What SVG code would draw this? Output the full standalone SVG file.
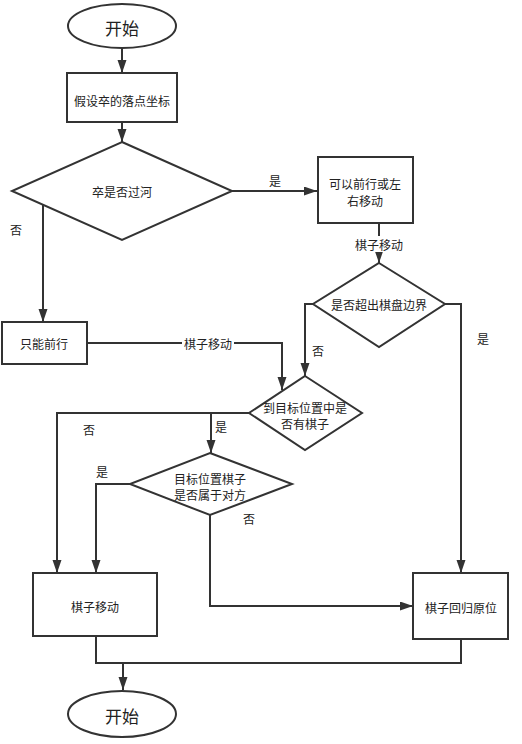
<svg xmlns="http://www.w3.org/2000/svg" width="522" height="744" viewBox="0 0 522 744">
<defs>
<marker id="ah" markerUnits="userSpaceOnUse" markerWidth="14" markerHeight="10" refX="13" refY="4.5" orient="auto">
<path d="M0,0 L13,4.5 L0,9 z" fill="#333"/>
</marker>
<style>
.s{fill:#fff;stroke:#333;stroke-width:2}
.c{fill:none;stroke:#333;stroke-width:2}
.a{marker-end:url(#ah)}
text{font-family:"Noto Sans CJK SC","Noto Sans",sans-serif;font-size:12px;fill:#222;text-anchor:middle;dominant-baseline:central}
.big{font-size:17px}
.lb{fill:#fff;stroke:none}
</style>
</defs>
<rect width="522" height="744" fill="#fff"/>
<g id="connectors">
<path class="c a" d="M122,48 L122,73"/>
<path class="c a" d="M122,122 L122,142"/>
<path class="c a" d="M232,191 L317,191"/>
<path class="c a" d="M379,223 L379,263"/>
<path class="c a" d="M43,205 L43,322"/>
<path class="c a" d="M87,343 L282,343 L282,390"/>
<path class="c a" d="M313,304 L305,304 L305,376"/>
<path class="c a" d="M445,304 L461,304 L461,573"/>
<path class="c a" d="M249,413 L57,413 L57,573"/>
<path class="c a" d="M211,413 L211,453"/>
<path class="c a" d="M130,484 L96,484 L96,573"/>
<path class="c a" d="M210,515 L210,606 L413,606"/>
<path class="c" d="M96,636 L96,663 L461,663 L461,639"/>
<path class="c a" d="M123,663 L123,690"/>
<rect class="lb" x="353" y="236" width="52" height="16"/>
<text x="379" y="244">棋子移动</text>
<rect class="lb" x="182" y="335" width="52" height="16"/>
<text x="208" y="343">棋子移动</text>
<text x="275" y="180">是</text>
<text x="16" y="229">否</text>
<text x="483" y="338">是</text>
<text x="318" y="350">否</text>
<text x="221" y="426">是</text>
<text x="89" y="429">否</text>
<text x="102" y="471">是</text>
<text x="249" y="518">否</text>
</g>
<g id="start">
<ellipse class="s" cx="122" cy="26" rx="54" ry="22"/>
<text class="big" x="122" y="27">开始</text>
</g>
<g id="assume">
<rect class="s" x="67" y="73" width="110" height="49"/>
<text x="122" y="100">假设卒的落点坐标</text>
</g>
<g id="river">
<polygon class="s" points="122,142 232,191 122,240 12,191"/>
<text x="122" y="191">卒是否过河</text>
</g>
<g id="forwardside">
<rect class="s" x="318" y="157" width="95" height="66"/>
<text x="365" y="183">可以前行或左</text>
<text x="365" y="200">右移动</text>
</g>
<g id="boundary">
<polygon class="s" points="379,263 445,304 379,347 313,304"/>
<text x="379" y="304">是否超出棋盘边界</text>
</g>
<g id="forward">
<rect class="s" x="2" y="322" width="85" height="42"/>
<text x="44" y="343">只能前行</text>
</g>
<g id="occupied">
<polygon class="s" points="305,376 362,413 305,450 249,413"/>
<text x="305" y="407">到目标位置中是</text>
<text x="305" y="423">否有棋子</text>
</g>
<g id="enemy">
<polygon class="s" points="210,453 292,484 210,515 130,484"/>
<text x="210" y="478">目标位置棋子</text>
<text x="210" y="494">是否属于对方</text>
</g>
<g id="move">
<rect class="s" x="33" y="573" width="124" height="63"/>
<text x="95" y="606">棋子移动</text>
</g>
<g id="restore">
<rect class="s" x="413" y="573" width="95" height="66"/>
<text x="461" y="607">棋子回归原位</text>
</g>
<g id="end">
<ellipse class="s" cx="122" cy="714" rx="54" ry="23"/>
<text class="big" x="122" y="715">开始</text>
</g>
</svg>
